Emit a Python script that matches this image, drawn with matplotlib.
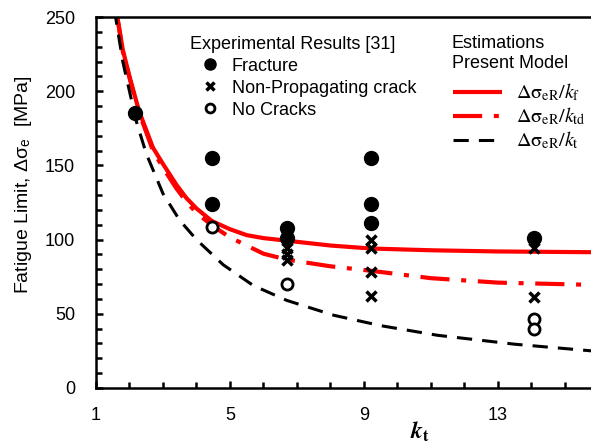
import numpy as np
import matplotlib
matplotlib.use('Agg')
import matplotlib.pyplot as plt

plt.rcParams['font.family'] = ['Liberation Sans', 'DejaVu Sans']
plt.rcParams['mathtext.fontset'] = 'stix'

# Experimental results [31]
kt_fracture = [2.16, 4.46, 4.46, 6.7, 6.7, 9.2, 9.2, 9.2, 14.07]
ds_fracture = [185, 155, 124, 108, 101, 155, 124, 111, 101]
kt_nonprop = [6.7, 6.7, 6.7, 9.2, 9.2, 9.2, 9.2, 14.07, 14.07]
ds_nonprop = [94, 90, 86, 100, 94.5, 78, 62, 94.5, 61]
kt_nocrack = [4.46, 6.7, 14.07, 14.07]
ds_nocrack = [108.5, 70, 46.5, 40]

# Estimations, present model
kt_kf = [1.6, 1.8, 2.0, 2.28, 2.7, 3.0, 3.4, 3.7, 4.0, 4.46, 5.0, 5.5, 6.0, 7.0, 8.0, 9.2, 11, 13, 15.8]
ds_kf = [255, 228, 210, 187, 162, 151, 137, 128, 121, 112.5, 107, 103, 101, 98.5, 96, 94, 92.8, 92, 91.5]
kt_ktd = [1.6, 1.8, 2.0, 2.28, 2.7, 3.0, 3.4, 3.7, 4.0, 4.5, 5.0, 5.5, 6.0, 6.7, 8.0, 9.2, 11, 13, 15.8]
ds_ktd = [255, 227, 209, 186, 160, 148.5, 134.5, 125.5, 118, 109, 101.5, 96, 90.5, 86.5, 82, 79, 74, 71, 69.5]
kt_kt = [1.55, 1.8, 2.2, 2.5, 3.0, 3.5, 4.0, 4.8, 5.7, 6.7, 8.1, 9.5, 11.2, 13.5, 15.8]
ds_kt = [255, 220, 180, 158, 131, 113, 100, 83, 69, 59, 49, 42, 35.5, 29.5, 25]

fig = plt.figure(figsize=(5.91, 4.43), dpi=100)
ax = fig.add_axes([0.1624, 0.1242, 0.8376, 0.8374])

l1, = ax.plot(kt_kf, ds_kf, color='#ff0000', lw=3, solid_capstyle='butt',
              label=r'$\mathrm{\Delta\sigma}_{\rm eR}/k_{\rm f}$')
l2, = ax.plot(kt_ktd, ds_ktd, color='#ff0000', lw=3,
              linestyle=(0, (7, 2.8, 1.2, 2.8)),
              label=r'$\mathrm{\Delta\sigma}_{\rm eR}/k_{\rm td}$')
l3, = ax.plot(kt_kt, ds_kt, color='black', lw=2.2,
              linestyle=(0, (5, 3.3)),
              label=r'$\mathrm{\Delta\sigma}_{\rm eR}/k_{\rm t}$')

p1, = ax.plot(kt_fracture, ds_fracture, 'o', color='black', ms=10, label='Fracture')
p2, = ax.plot(kt_nonprop, ds_nonprop, 'x', color='black', ms=7, mew=2.5,
              label='Non-Propagating crack')
p3, = ax.plot(kt_nocrack, ds_nocrack, 'o', mfc='white', mec='black', ms=8, mew=2,
              label='No Cracks')

ax.set_xlim(1, 15.78)
ax.set_ylim(0, 250)
ax.set_xticks([1, 5, 9, 13])
ax.set_xticks(np.arange(1, 16), minor=True)
ax.set_yticks(np.arange(0, 251, 50))
ax.set_yticks(np.arange(0, 251, 10), minor=True)
ax.tick_params(which='both', direction='in', width=1.8, labelsize=13)
ax.tick_params(which='major', length=5)
ax.tick_params(which='minor', length=4)
ax.tick_params(axis='x', pad=14)
ax.tick_params(axis='y', pad=15)
for s in ['left', 'bottom', 'top']:
    ax.spines[s].set_linewidth(1.8)
ax.spines['right'].set_visible(False)

ax.set_ylabel('Fatigue Limit, Δσ$_\\mathregular{e}$  [MPa]', fontsize=14)
ax.yaxis.set_label_coords(-0.125, 0.547)
ax.set_xlabel(r'$\mathbfit{k}_\mathbf{t}$', fontsize=17)
ax.xaxis.set_label_coords(0.655, -0.085)

leg1 = ax.legend(handles=[p1, p2, p3], title='Experimental Results [31]',
                 alignment='left', frameon=False, fontsize=13, title_fontsize=13,
                 loc='upper left', bbox_to_anchor=(0.19, 0.95),
                 handlelength=2.2, handletextpad=0.1, labelspacing=0.28,
                 markerscale=0.8, borderpad=0, borderaxespad=0)
ax.add_artist(leg1)
ax.text(0.719, 0.951, 'Estimations\nPresent Model', transform=ax.transAxes,
        fontsize=13, ha='left', va='top', linespacing=1.25)
ax.legend(handles=[l1, l2, l3], frameon=False, fontsize=14.5,
          loc='upper left', bbox_to_anchor=(0.722, 0.826),
          handlelength=2.4, handletextpad=0.7, labelspacing=0.12,
          borderpad=0, borderaxespad=0)

fig.savefig('out.png', dpi=100)
